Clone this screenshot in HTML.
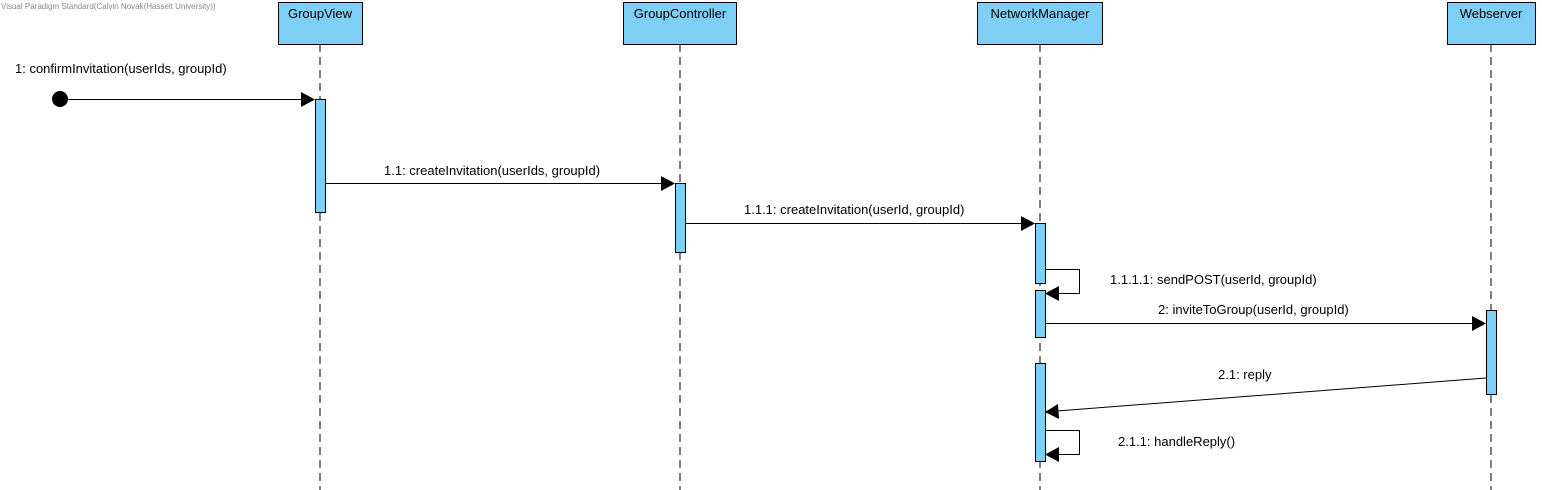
<!DOCTYPE html>
<html><head><style>body{margin:0;background:#fff}svg{display:block}text{font-family:"Liberation Sans",Arial,sans-serif;font-size:13px;fill:#000}</style></head><body>
<svg width="1542" height="490" xmlns="http://www.w3.org/2000/svg">
<text x="1" y="9" style="font-size:8px;fill:#888">Visual Paradigm Standard(Calvin Novak(Hasselt University))</text>
<g stroke="#000" stroke-dasharray="8,5" stroke-width="1">
<line x1="320" y1="44" x2="320" y2="490"/><line x1="680" y1="44" x2="680" y2="490"/><line x1="1040" y1="44" x2="1040" y2="490"/><line x1="1491" y1="44" x2="1491" y2="490"/>
</g>
<g fill="#7dcff5" stroke="#000" stroke-width="1">
<rect x="278.5" y="2.5" width="84" height="42"/><rect x="623.5" y="2.5" width="113" height="42"/><rect x="977.5" y="2.5" width="125" height="42"/><rect x="1447.5" y="2.5" width="88" height="42"/>
<rect x="315.5" y="99.5" width="10" height="113"/><rect x="675.5" y="183.5" width="10" height="69"/>
<rect x="1035.5" y="223.5" width="10" height="60"/><rect x="1035.5" y="290.5" width="10" height="47"/><rect x="1035.5" y="363.5" width="10" height="98"/>
<rect x="1486.5" y="310.5" width="10" height="84"/>
</g>
<g text-anchor="middle"><text x="320" y="18">GroupView</text><text x="680" y="18">GroupController</text><text x="1040" y="18">NetworkManager</text><text x="1491" y="18">Webserver</text></g>
<g stroke="#000" fill="none" stroke-width="1">
<line x1="60" y1="99.5" x2="303" y2="99.5"/>
<line x1="325" y1="183.5" x2="663" y2="183.5"/>
<line x1="685" y1="223.5" x2="1023" y2="223.5"/>
<polyline points="1045,269.5 1079.5,269.5 1079.5,293.5 1057,293.5"/>
<line x1="1045" y1="323.5" x2="1474" y2="323.5"/>
<line x1="1486" y1="378" x2="1057" y2="411"/>
<polyline points="1045,430.5 1079.5,430.5 1079.5,454.5 1057,454.5"/>
</g>
<circle cx="60" cy="99" r="8" fill="#000"/>
<g fill="#000">
<polygon points="301,92 315,99.5 301,107"/>
<polygon points="661,176 675,183.5 661,191"/>
<polygon points="1021,216 1035,223.5 1021,231"/>
<polygon points="1059,286 1045,293.5 1059,301"/>
<polygon points="1472,316 1486,323.5 1472,331"/>
<polygon points="1058,404 1045,412 1059,419"/>
<polygon points="1059,447 1045,454.5 1059,462"/>
</g>
<text x="15" y="73">1: confirmInvitation(userIds, groupId)</text>
<text x="384" y="175">1.1: createInvitation(userIds, groupId)</text>
<text x="744" y="214">1.1.1: createInvitation(userId, groupId)</text>
<text x="1110" y="284">1.1.1.1: sendPOST(userId, groupId)</text>
<text x="1158" y="314">2: inviteToGroup(userId, groupId)</text>
<text x="1218" y="379">2.1: reply</text>
<text x="1118" y="446">2.1.1: handleReply()</text>
</svg>
</body></html>
